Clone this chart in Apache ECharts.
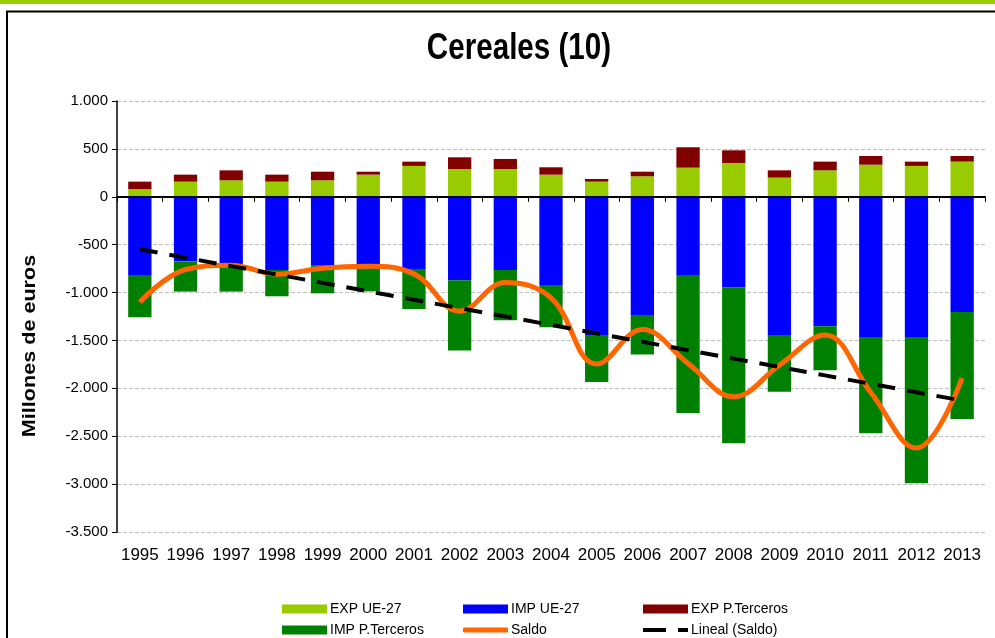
<!DOCTYPE html>
<html>
<head>
<meta charset="utf-8">
<title>Cereales (10)</title>
<script src="https://cdn.jsdelivr.net/npm/echarts@6/dist/echarts.min.js"></script>
<style>
  html, body { margin: 0; padding: 0; background: #fff; }
  #main { width: 995px; height: 638px; }
</style>
</head>
<body>
<div id="main"></div>
<script>
// años
var years = ['1995', '1996', '1997', '1998', '1999', '2000', '2001', '2002', '2003', '2004',
  '2005', '2006', '2007', '2008', '2009', '2010', '2011', '2012', '2013'];

// millones de euros
var expUE = [80, 158, 172, 158, 172, 231, 322, 290, 290, 231, 158, 214, 304, 353, 200, 276, 335, 322, 367];
var expTerceros = [78, 73, 104, 73, 90, 31, 45, 122, 105, 77, 28, 48, 213, 132, 76, 91, 91, 45, 59];
var impUE = [-816, -677, -722, -764, -719, -701, -754, -872, -764, -921, -1443, -1234, -816, -945, -1443, -1352, -1463, -1463, -1203];
var impTerceros = [-442, -313, -268, -275, -289, -287, -418, -734, -526, -442, -490, -414, -1441, -1628, -592, -459, -1006, -1528, -1116];
var saldo = [-1100, -759, -714, -808, -746, -726, -805, -1194, -895, -1055, -1747, -1386, -1740, -2088, -1759, -1444, -2043, -2624, -1893];
var tendencia = [-548, -636, -724, -811, -899, -987, -1075, -1163, -1250, -1338, -1426, -1514, -1602, -1690, -1777, -1865, -1953, -2041, -2128];

var sans = '"Liberation Sans", Arial, sans-serif';

function miles(v) {
  var s = String(Math.abs(v)).replace(/\B(?=(\d{3})+(?!\d))/g, '.');
  return (v < 0 ? '-' : '') + s;
}

// una leyenda por elemento para colocarlos como en la tabla 3x2
function leyenda(name, left, top, icon, h) {
  return {
    left: left, top: top,
    itemWidth: 45, itemHeight: h,
    data: [{ name: name, icon: icon }],
    textStyle: { fontFamily: sans, fontSize: 14, color: '#000', padding: [0, 0, 0, -2] }
  };
}

var chart = echarts.init(document.getElementById('main'));

chart.setOption({
  backgroundColor: '#fff',
  animation: false,
  graphic: [
    { type: 'rect', shape: { x: 0, y: 0, width: 995, height: 4 }, style: { fill: '#99cc00' } },
    { type: 'line', shape: { x1: 6, y1: 11.5, x2: 995, y2: 11.5 }, style: { stroke: '#000', lineWidth: 2 } },
    { type: 'line', shape: { x1: 7, y1: 11, x2: 7, y2: 638 }, style: { stroke: '#000', lineWidth: 2 } },
    {
      type: 'text', x: 519, y: 49, scaleX: 0.8,
      style: { text: 'Cereales (10)', fontFamily: sans, fontSize: 37, fontWeight: 'bold', fill: '#000',
        textAlign: 'center', textVerticalAlign: 'middle' }
    },
    {
      type: 'text', x: 30, y: 346, rotation: Math.PI / 2, scaleX: 1.2,
      style: { text: 'Millones de euros', fontFamily: sans, fontSize: 18, fontWeight: 'bold', fill: '#000',
        textAlign: 'center', textVerticalAlign: 'middle' }
    }
  ],
  legend: [
    leyenda('EXP UE-27', 277, 597, 'rect', 9),
    leyenda('IMP P.Terceros', 277, 618, 'rect', 9),
    leyenda('IMP UE-27', 458, 597, 'rect', 9),
    leyenda('Saldo', 458, 618, 'roundRect', 5),
    leyenda('EXP P.Terceros', 638, 597, 'rect', 9),
    leyenda('Lineal (Saldo)', 638, 618, 'path://M0,0h23v4h-23z M35,0h10v4h-10z', 4)
  ],
  grid: { left: 117, right: 10, top: 101, bottom: 106, containLabel: false },
  xAxis: [
    {
      type: 'category',
      data: years,
      axisLine: { onZero: true, lineStyle: { color: '#000', width: 2 } },
      axisTick: { show: true, length: 5, lineStyle: { color: '#000' } },
      axisLabel: { show: false },
      splitLine: { show: false },
      z: 5
    },
    {
      type: 'category',
      data: years,
      position: 'bottom',
      axisLine: { show: false, onZero: false },
      axisTick: { show: false },
      axisLabel: { interval: 0, hideOverlap: false, fontFamily: sans, fontSize: 17, color: '#000', margin: 15 }
    }
  ],
  yAxis: {
    type: 'value',
    min: -3500,
    max: 1000,
    interval: 500,
    axisLine: { show: true, lineStyle: { color: '#000', width: 1.5 } },
    axisTick: { show: true, length: 5, lineStyle: { color: '#000' } },
    axisLabel: { fontFamily: sans, fontSize: 15, color: '#000', margin: 9, formatter: miles },
    splitLine: { lineStyle: { color: '#c0c0c0', type: [4, 2] } }
  },
  series: [
    { name: 'EXP UE-27', type: 'bar', stack: 'total', barWidth: '51%', data: expUE, itemStyle: { color: '#99cc00' } },
    { name: 'EXP P.Terceros', type: 'bar', stack: 'total', data: expTerceros, itemStyle: { color: '#800000' } },
    { name: 'IMP UE-27', type: 'bar', stack: 'total', data: impUE, itemStyle: { color: '#0000ff' } },
    { name: 'IMP P.Terceros', type: 'bar', stack: 'total', data: impTerceros, itemStyle: { color: '#008000' } },
    {
      name: 'Saldo', type: 'line', data: saldo, smooth: 0.4, symbol: 'none',
      lineStyle: { color: '#ff6600', width: 5 }, itemStyle: { color: '#ff6600' }, z: 6
    },
    {
      name: 'Lineal (Saldo)', type: 'line', data: tendencia, symbol: 'none',
      lineStyle: { color: '#000', width: 4, type: [18, 12] }, itemStyle: { color: '#000' }, z: 7
    }
  ]
});
</script>
</body>
</html>
